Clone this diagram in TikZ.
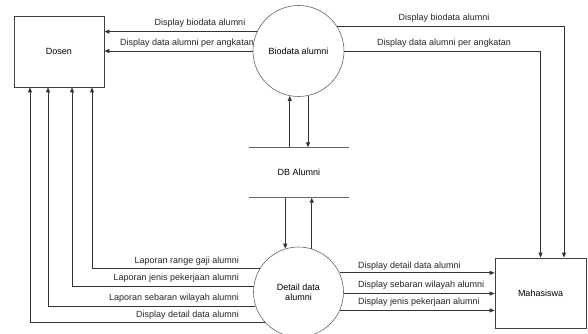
\documentclass[tikz,border=0pt]{standalone}
\usepackage{fontspec}
\setmainfont{Liberation Sans}
\usetikzlibrary{arrows.meta}
\begin{document}
\begin{tikzpicture}[x=1pt,y=-1pt,
  font=\fontsize{9}{10}\selectfont,
  ent/.style={draw=black!75,line width=0.8pt,rectangle,inner sep=0pt},
  proc/.style={draw=black!60,line width=0.6pt,circle,inner sep=0pt,align=center},
  flow/.style={draw=black!80,line width=0.8pt,-{Triangle[length=5pt,width=4pt]}},
  lbl/.style={inner sep=0pt,text=black!85}]
\clip (0,0) rectangle (588,334);
\fill[white] (0,0) rectangle (588,334);
% entities and processes
\node[ent,minimum width=90pt,minimum height=71pt] (dosen) at (59,51.5) {Dosen};
\node[ent,minimum width=91pt,minimum height=70pt] (mhs) at (540.5,293) {Mahasiswa};
\node[proc,minimum size=91pt] (bio) at (298.5,51) {Biodata alumni};
\node[proc,minimum size=90pt] (det) at (298.5,292) {Detail data\\alumni};
\node[inner sep=0pt,minimum width=100pt,minimum height=50pt] (db) at (299,172.5) {DB Alumni};
\draw[black!60,line width=0.8pt] (db.north west) -- (db.north east);
\draw[black!60,line width=0.8pt] (db.south west) -- (db.south east);
% Biodata -> Dosen
\draw[flow] (bio.155) -- (bio.155 -| dosen.east);
\draw[flow] (bio.west) -- (bio.west -| dosen.east);
% Biodata -> Mahasiswa
\draw[flow] (bio.33) -| ([xshift=23.5pt]mhs.north);
\draw[flow] (bio.east) -| (mhs.north);
% Biodata <-> DB
\draw[flow] (db.north -| bio.259) -- (bio.259);
\draw[flow] (bio.282) -- (bio.282 |- db.north);
% DB <-> Detail
\draw[flow] (db.south -| det.107) -- (det.107);
\draw[flow] (det.73) -- (det.73 |- db.south);
% Detail -> Dosen
\draw[flow] (det.149) -| ([xshift=33pt]dosen.south);
\draw[flow] (det.173.6) -| ([xshift=13pt]dosen.south);
\draw[flow] (det.198) -| ([xshift=-11pt]dosen.south);
\draw[flow] (det.223.5) -| ([xshift=-29pt]dosen.south);
% Detail -> Mahasiswa
\draw[flow] (det.25) -- (det.25 -| mhs.west);
\draw[flow] (det.358.7) -- (det.358.7 -| mhs.west);
\draw[flow] (det.336.4) -- (det.336.4 -| mhs.west);
% labels
\node[lbl] (l1) at (200,23) {Display biodata alumni};
\node[lbl] (l2) at (187,43) {Display data alumni per angkatan};
\node[lbl] (l3) at (444,18) {Display biodata alumni};
\node[lbl] (l4) at (444,43) {Display data alumni per angkatan};
\node[lbl,anchor=east] (l5) at (239,261) {Laporan range gaji alumni};
\node[lbl,anchor=east] (l6) at (239,278.5) {Laporan jenis pekerjaan alumni};
\node[lbl,anchor=east] (l7) at (239,298) {Laporan sebaran wilayah alumni};
\node[lbl,anchor=east] (l8) at (239,315) {Display detail data alumni};
\node[lbl,anchor=west] (l9) at (358,266) {Display detail data alumni};
\node[lbl,anchor=west] (l10) at (358,285) {Display sebaran wilayah alumni};
\node[lbl,anchor=west] (l11) at (358,302) {Display jenis pekerjaan alumni};
\end{tikzpicture}
\end{document}
